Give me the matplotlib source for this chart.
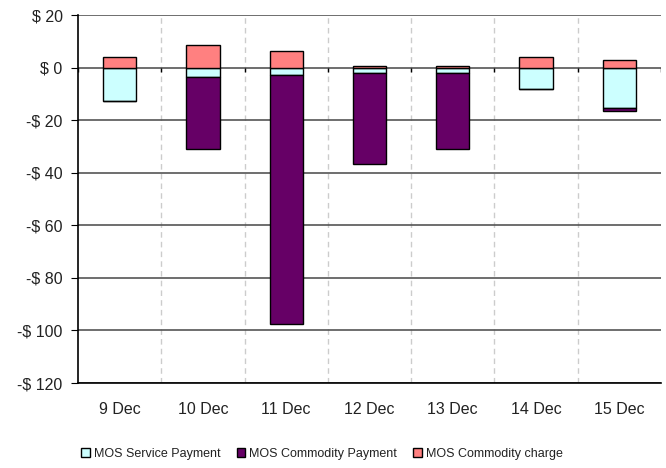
import matplotlib
matplotlib.use("Agg")
import matplotlib.pyplot as plt
import numpy as np
from matplotlib.ticker import FuncFormatter

categories = ["9 Dec", "10 Dec", "11 Dec", "12 Dec", "13 Dec", "14 Dec", "15 Dec"]
service_payment = [-12.8, -3.4, -2.8, -2.0, -2.0, -8.1, -15.5]
commodity_payment = [0.0, -27.6, -94.6, -34.5, -29.0, 0.0, -0.9]
commodity_charge = [4.1, 8.4, 6.2, 0.5, 0.5, 4.1, 2.7]
y_ticks = [20, 0, -20, -40, -60, -80, -100, -120]

plt.rcParams['font.family'] = ['Liberation Sans', 'DejaVu Sans']

fig = plt.figure(figsize=(6.66, 4.68), dpi=100)
ax = fig.add_axes([78/666, 1 - 383/468, (661-78)/666, (383-15)/468])

x = np.arange(len(categories))
w = 0.4
sp = np.array(service_payment)
cp = np.array(commodity_payment)
cc = np.array(commodity_charge)

b1 = ax.bar(x, sp, w, color="#CCFFFF", edgecolor="black", linewidth=1.0, zorder=3,
            label="MOS Service Payment")
b2 = ax.bar(x, cp, w, bottom=sp, color="#660066", edgecolor="black", linewidth=1.0, zorder=3,
            label="MOS Commodity Payment")
b3 = ax.bar(x, cc, w, color="#FF8080", edgecolor="black", linewidth=1.0, zorder=3,
            label="MOS Commodity charge")

ax.set_xlim(-0.5, len(categories) - 0.5)
ax.set_ylim(-120, 20)
ax.set_yticks(y_ticks)

def fmt(v, pos):
    v = int(round(v))
    return f"$ {v}" if v >= 0 else f"-$ {abs(v)}"
ax.yaxis.set_major_formatter(FuncFormatter(fmt))

for t in y_ticks:
    ax.axhline(t, color="#555555", linewidth=1.2, zorder=1)
for b in np.arange(0.5, len(categories) - 0.5, 1.0):
    ax.axvline(b, color="#CCCCCC", linewidth=1.0, linestyle=(0, (4, 3)), zorder=0)
bounds = np.arange(-0.5, len(categories) + 0.5, 1.0)
ax.vlines(bounds, -1.5, 0, color="black", linewidth=1.0, zorder=2)

ax.set_xticks(x)
ax.set_xticklabels(categories)
ax.tick_params(axis="x", length=0, pad=14, labelsize=11.5, colors="#222222")
ax.tick_params(axis="y", length=5, direction="out", labelsize=11.5, colors="black",
               labelcolor="#222222", pad=6)

for s in ["top", "right"]:
    ax.spines[s].set_visible(False)
ax.spines["left"].set_color("black")
ax.spines["left"].set_linewidth(1.2)
ax.spines["bottom"].set_color("black")
ax.spines["bottom"].set_linewidth(1.2)

leg = fig.legend(handles=[b1, b2, b3], loc="center", bbox_to_anchor=(322/666, 1 - 454/468),
                 ncol=3, frameon=False, fontsize=9, handlelength=0.7, handleheight=0.7,
                 handletextpad=0.3, columnspacing=1.3)
for t in leg.get_texts():
    t.set_color("#222222")

fig.savefig("out.png", dpi=100)
